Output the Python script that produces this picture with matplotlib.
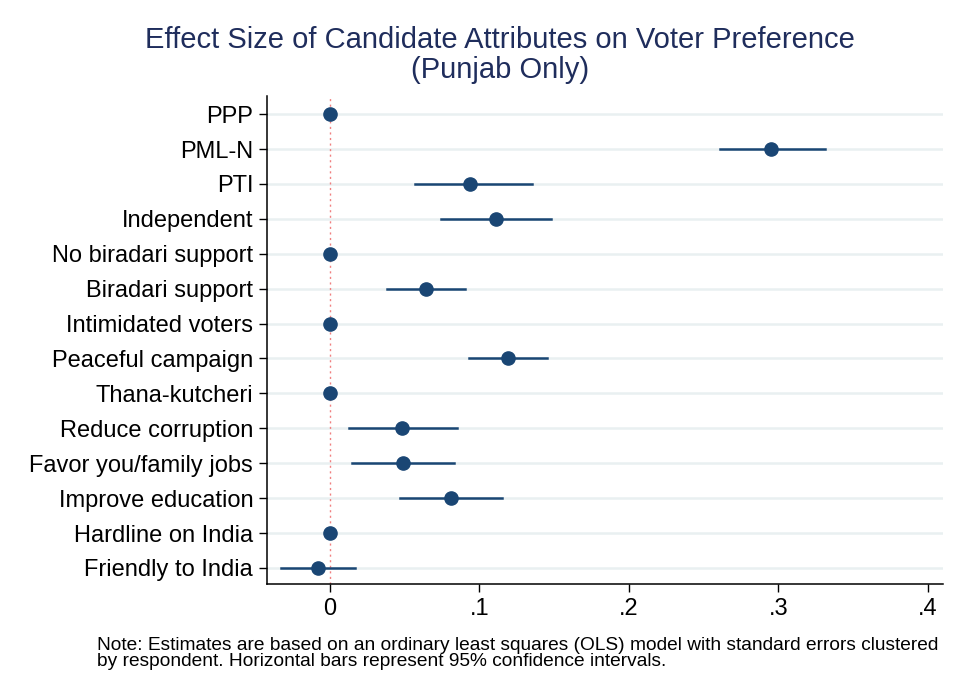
import matplotlib
matplotlib.use("Agg")
from matplotlib import pyplot as plt
import numpy as np

# coefficient estimates and 95% CIs
labels = ['PPP', 'PML-N', 'PTI', 'Independent', 'No biradari support',
          'Biradari support', 'Intimidated voters', 'Peaceful campaign',
          'Thana-kutcheri', 'Reduce corruption', 'Favor you/family jobs',
          'Improve education', 'Hardline on India', 'Friendly to India']
coef = [0.0, 0.295, 0.094, 0.111, 0.0, 0.064, 0.0, 0.119, 0.0, 0.048, 0.049, 0.081, 0.0, -0.008]
ci_low = [np.nan, 0.261, 0.057, 0.074, np.nan, 0.038, np.nan, 0.093, np.nan, 0.013, 0.015, 0.047, np.nan, -0.033]
ci_high = [np.nan, 0.331, 0.135, 0.148, np.nan, 0.090, np.nan, 0.145, np.nan, 0.085, 0.083, 0.115, np.nan, 0.017]
xticks = [0, 0.1, 0.2, 0.3, 0.4]
xticklabels = ['0', '.1', '.2', '.3', '.4']

plt.rcParams['font.family'] = ['Liberation Sans', 'DejaVu Sans']

navy = '#1a4674'
fig = plt.figure(figsize=(9.54, 6.98), dpi=100)
ax = fig.add_axes([0.2799, 0.1633, 0.7086, 0.6992])

y = np.arange(len(labels))
for yi in y:
    ax.axhline(yi, color='#e9f0f1', lw=1.8, zorder=0)
ax.axvline(0, color='#f08080', lw=1.0, ls=(0, (1.5, 2.5)), zorder=1)

for i in range(len(labels)):
    if not np.isnan(ci_low[i]):
        ax.plot([ci_low[i], ci_high[i]], [y[i], y[i]], color=navy, lw=1.8, zorder=2)
ax.plot(coef, y, 'o', color=navy, ms=9.5, zorder=3)

ax.set_xlim(-0.0422, 0.4103)
ax.set_ylim(len(labels) - 1 + 0.46, -0.52)
ax.set_yticks(y)
ax.set_yticklabels(labels, fontsize=17)
ax.set_xticks(xticks)
ax.set_xticklabels(xticklabels, fontsize=17)
ax.tick_params(axis='both', direction='out', length=6, width=1, color='black')
ax.tick_params(axis='y', pad=4)
ax.tick_params(axis='x', pad=4)
for s in ['top', 'right']:
    ax.spines[s].set_visible(False)
for s in ['left', 'bottom']:
    ax.spines[s].set_linewidth(1.1)

fig.text(0.524, 0.9427, 'Effect Size of Candidate Attributes on Voter Preference',
         ha='center', va='center', fontsize=21, color='#1f2d5c')
fig.text(0.524, 0.8997, '(Punjab Only)',
         ha='center', va='center', fontsize=21, color='#1f2d5c')
fig.text(0.102, 0.0759, 'Note: Estimates are based on an ordinary least squares (OLS) model with standard errors clustered',
         ha='left', va='center', fontsize=13.8, color='black')
fig.text(0.102, 0.0516, 'by respondent. Horizontal bars represent 95% confidence intervals.',
         ha='left', va='center', fontsize=13.8, color='black')

fig.savefig('out.png', dpi=100)
